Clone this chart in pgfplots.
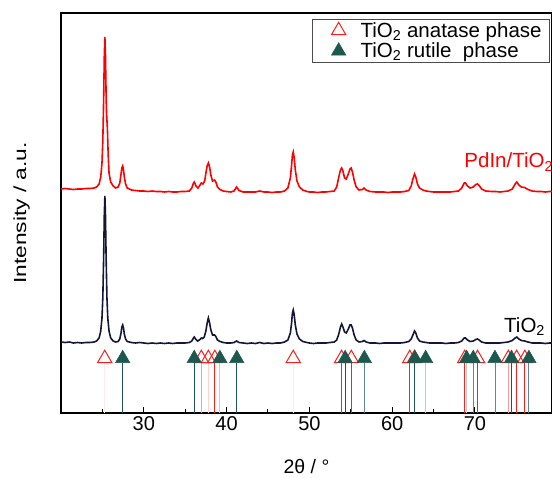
\documentclass[border=0pt]{standalone}
\usepackage{fontspec}
\setmainfont{Liberation Sans}
\newfontfamily\ylabfont{Liberation Sans}[FakeStretch=1.3]
\usepackage{pgfplots}
\pgfplotsset{compat=1.18}
\definecolor{navy}{RGB}{20,22,55}
\definecolor{rut}{RGB}{28,88,78}
\definecolor{ana}{RGB}{255,30,30}
\pgfplotsset{mylegimg/.style={legend image code/.code={\path[draw=none,fill=none] (0pt,-6pt) rectangle (40pt,6pt); \draw[##1] plot coordinates {(20pt,0pt)};}}}
\begin{document}
\begin{tikzpicture}
\path[use as bounding box] (-61pt,-64pt) rectangle (491pt,413pt);
\begin{axis}[
  at={(0,0)}, anchor=south west,
  scale only axis, width=491pt, height=400pt,
  xmin=20, xmax=79.3, ymin=0, ymax=400,
  xtick={30,40,50,60,70}, minor xtick={25,35,45,55,65,75},
  ytick=\empty, tick pos=bottom, tick align=inside,
  major tick length=6pt, minor tick length=4pt,
  every tick/.style={black, line width=1pt},
  axis line style={line width=1.2pt},
  /pgf/number format/assume math mode=true,
  tick label style={font=\fontsize{20}{24}\selectfont},
  xlabel={2θ / °}, ylabel={\ylabfont Intensity / a.u.},
  xlabel style={font=\fontsize{19.5}{23}\selectfont, inner sep=0pt, at={(axis description cs:0.5,-0.135)}, anchor=center},
  ylabel style={font=\fontsize{17.5}{21}\selectfont, at={(axis description cs:-0.08,0.5)}, anchor=center},
  legend style={at={(rel axis cs:1,1)}, anchor=north east, xshift=-2pt, yshift=-6pt,
    font=\fontsize{20.5}{24}\selectfont, draw=black!70, line width=0.8pt,
    inner xsep=6pt, inner ysep=1pt, row sep=0pt, cells={anchor=west}},
  legend cell align=left,
]
% TiO2 curve
\addplot[navy, line width=1.6pt, forget plot] coordinates {
(20.0,71) (20.5,70.5) (21,71) (21.5,70) (22,70.5) (22.5,70) (23,70.5) (23.5,70.5) (24,71)
(24.3,72) (24.6,75) (24.8,82) (24.95,95) (25.05,115) (25.15,155) (25.23,198) (25.3,217)
(25.37,198) (25.45,155) (25.55,115) (25.65,95) (25.8,82) (26.0,75) (26.3,72) (26.6,71)
(26.9,71.5) (27.1,74) (27.25,80) (27.35,86) (27.45,88) (27.55,85) (27.65,79) (27.8,74) (28.0,71.5)
(28.5,70.5) (29,70) (29.5,70.5) (30,70) (30.5,69.5) (31,70) (31.5,69.5) (32,70) (32.5,69.5)
(33,70) (33.5,69.5) (34,70) (34.5,70) (35,70) (35.5,70.5)
(35.8,72) (36.0,75) (36.1,76) (36.25,74) (36.5,72) (36.8,73.5) (36.95,75) (37.1,74.5)
(37.3,76) (37.5,82) (37.65,90) (37.8,95) (37.95,90) (38.1,83) (38.3,78) (38.55,78) (38.7,76.5)
(38.9,73) (39.2,71.5) (39.6,70.5) (40,70) (40.5,70) (40.9,70.5) (41.2,72) (41.5,70.5) (42,70)
(42.5,69.5) (43,70) (43.5,69.5) (44,70.5) (44.5,69.5) (45,70) (45.5,69.5) (46,70) (46.5,70) (47,71)
(47.4,73) (47.7,80) (47.85,90) (47.95,100) (48.05,103) (48.15,99) (48.3,88) (48.5,79) (48.8,74)
(49.2,71.5) (49.7,70.5) (50,70) (50.5,69.5) (51,70) (51.5,70) (52,70) (52.5,70.5) (53,71)
(53.3,73) (53.55,79) (53.75,86) (53.9,89) (54.05,86) (54.25,81) (54.45,80) (54.7,84) (54.9,88)
(55.05,88) (55.2,85) (55.4,78) (55.65,73) (56.0,71) (56.4,71.5) (56.6,72.5) (56.85,71) (57.3,70)
(58,70) (58.5,69.5) (59,70) (59.5,70) (60,70) (60.5,70) (61,70) (61.5,70.5) (62,71.5)
(62.3,74) (62.5,78) (62.7,82) (62.85,80) (63.05,75) (63.3,72) (63.7,71) (64.1,70.5)
(64.5,70) (65,70) (65.5,70) (66,70) (66.5,69.5) (67,70) (67.5,70) (68,70.5)
(68.4,72) (68.7,75) (68.85,75) (69.1,73) (69.4,71.5) (69.8,72) (70.1,73.5) (70.3,74) (70.5,73)
(70.8,71) (71.3,70) (72,70) (72.5,70) (73,70) (73.5,70.5) (74,71)
(74.5,72.5) (74.85,75) (75.05,76) (75.3,74) (75.6,72.5) (76.0,72) (76.4,71) (76.9,70)
(77.5,70) (78,70) (78.5,69.5) (79,70) (79.5,70)
};
% PdIn/TiO2 curve
\addplot[red, line width=1.6pt, forget plot] coordinates {
(20.0,224) (20.5,224.5) (21,224) (21.5,223.5) (22,224) (22.5,224) (23,224.5) (23.5,224.5) (24,225)
(24.3,226) (24.6,229) (24.8,236) (24.95,250) (25.05,272) (25.15,313) (25.23,357) (25.3,376)
(25.37,358) (25.45,316) (25.5,300) (25.6,285) (25.7,258) (25.8,240) (26.0,231) (26.3,227) (26.6,225)
(26.9,226) (27.1,230) (27.25,239) (27.35,245) (27.45,247) (27.55,243) (27.65,236) (27.8,229) (28.0,225)
(28.5,223) (29,222.5) (29.5,222) (30,222) (30.5,221.5) (31,222) (31.5,221.5) (32,221.5) (32.5,221)
(33,221.5) (33.5,221) (34,221) (34.5,221.5) (35,221.5) (35.5,222)
(35.8,225) (36.0,230) (36.1,231) (36.3,227) (36.55,225) (36.8,228) (36.95,230) (37.15,229)
(37.35,232) (37.5,240) (37.65,247) (37.8,250) (37.95,246) (38.1,238) (38.3,232) (38.55,233) (38.7,231)
(38.9,226) (39.2,223.5) (39.6,222) (40,221.5) (40.5,221) (40.9,222) (41.2,226) (41.5,222.5) (42,221)
(42.5,221) (43,221) (43.5,221) (44,222) (44.5,221) (45,221) (45.5,220.5) (46,221) (46.5,221) (47,222)
(47.4,225) (47.7,235) (47.85,248) (47.95,258) (48.05,261) (48.15,256) (48.3,243) (48.5,232) (48.8,226)
(49.2,223) (49.7,221.5) (50,221) (50.5,221) (51,220.5) (51.5,221) (52,221) (52.5,221.5) (53,222)
(53.3,226) (53.55,236) (53.75,243) (53.9,245) (54.05,242) (54.25,235) (54.45,234) (54.7,239) (54.9,244)
(55.05,245) (55.2,241) (55.4,233) (55.65,226) (56.0,223) (56.4,223.5) (56.6,225) (56.85,223) (57.3,221.5)
(58,221) (58.5,221) (59,221) (59.5,220.5) (60,221) (60.5,221) (61,221) (61.5,221.5) (62,222.5)
(62.3,227) (62.5,234) (62.7,239) (62.85,236) (63.05,229) (63.3,225) (63.7,223) (64.1,222)
(64.5,221.5) (65,221) (65.5,221) (66,221) (66.5,221) (67,221) (67.5,221.5) (68,222)
(68.4,225) (68.7,230) (68.85,230) (69.1,227) (69.4,225) (69.8,226) (70.1,228.5) (70.3,229) (70.5,227.5)
(70.8,224) (71.3,222) (72,221.5) (72.5,221.5) (73,221) (73.5,221.5) (74,222)
(74.5,224) (74.85,229) (75.05,231) (75.3,228) (75.6,226) (76.0,225.5) (76.4,223.5) (76.9,222)
(77.5,221.5) (78,221.5) (78.5,221) (79,221.5) (79.5,221.5)
};
% anatase stems
\addplot[ycomb, ana, line width=0.9pt, forget plot] coordinates {(38.58,50.4) (53.89,50.4) (55.06,50.4) (62.12,50.4) (68.76,50.4) (70.31,50.4) (75.03,50.4) (76.02,50.4)};
\addplot[ycomb, ana!45!white, line width=0.9pt, forget plot] coordinates {(36.95,50.4) (74.03,50.4)};
\addplot[ycomb, ana!20!white, line width=0.9pt, forget plot] coordinates {(37.80,50.4) (62.69,50.4)};
\addplot[ycomb, ana!10!white, line width=0.9pt, forget plot] coordinates {(25.28,50.4) (48.05,50.4)};
% rutile stems
\addplot[ycomb, rut, line width=0.9pt, forget plot] coordinates {(27.45,50.4) (36.09,50.4) (41.23,50.4) (54.32,50.4) (62.74,50.4) (74.41,50.4)};
\addplot[ycomb, rut!70!white, line width=0.9pt, forget plot] coordinates {(56.64,50.4) (69.79,50.4) (72.41,50.4) (76.51,50.4)};
\addplot[ycomb, rut!30!white, line width=0.9pt, forget plot] coordinates {(39.19,50.4) (64.04,50.4) (68.99,50.4)};
% markers
\addplot[only marks, mylegimg, mark=triangle, mark size=8.3pt, ana, mark options={line width=1pt}] coordinates {
(25.28,54.5) (36.95,54.5) (37.80,54.5) (38.58,54.5) (48.05,54.5) (53.89,54.5) (55.06,54.5) (62.12,54.5)
(62.69,54.5) (68.76,54.5) (70.31,54.5) (74.03,54.5) (75.03,54.5) (76.02,54.5)};
\addlegendentry{TiO\textsubscript{2} anatase phase}
\addplot[only marks, mylegimg, mark=triangle*, mark size=8.3pt, rut, mark options={line width=0.5pt}] coordinates {
(27.45,54.5) (36.09,54.5) (39.19,54.5) (41.23,54.5) (54.32,54.5) (56.64,54.5) (62.74,54.5) (64.04,54.5)
(68.99,54.5) (69.79,54.5) (72.41,54.5) (74.41,54.5) (76.51,54.5)};
\addlegendentry{TiO\textsubscript{2} rutile\ \ phase}
\node[anchor=base west, red, font=\fontsize{20.5}{24}\selectfont] at (axis cs:68.3,245) {PdIn/TiO\textsubscript{2}};
\node[anchor=base west, black, font=\fontsize{20.5}{24}\selectfont] at (axis cs:73.1,81) {TiO\textsubscript{2}};
\end{axis}
\end{tikzpicture}
\end{document}
